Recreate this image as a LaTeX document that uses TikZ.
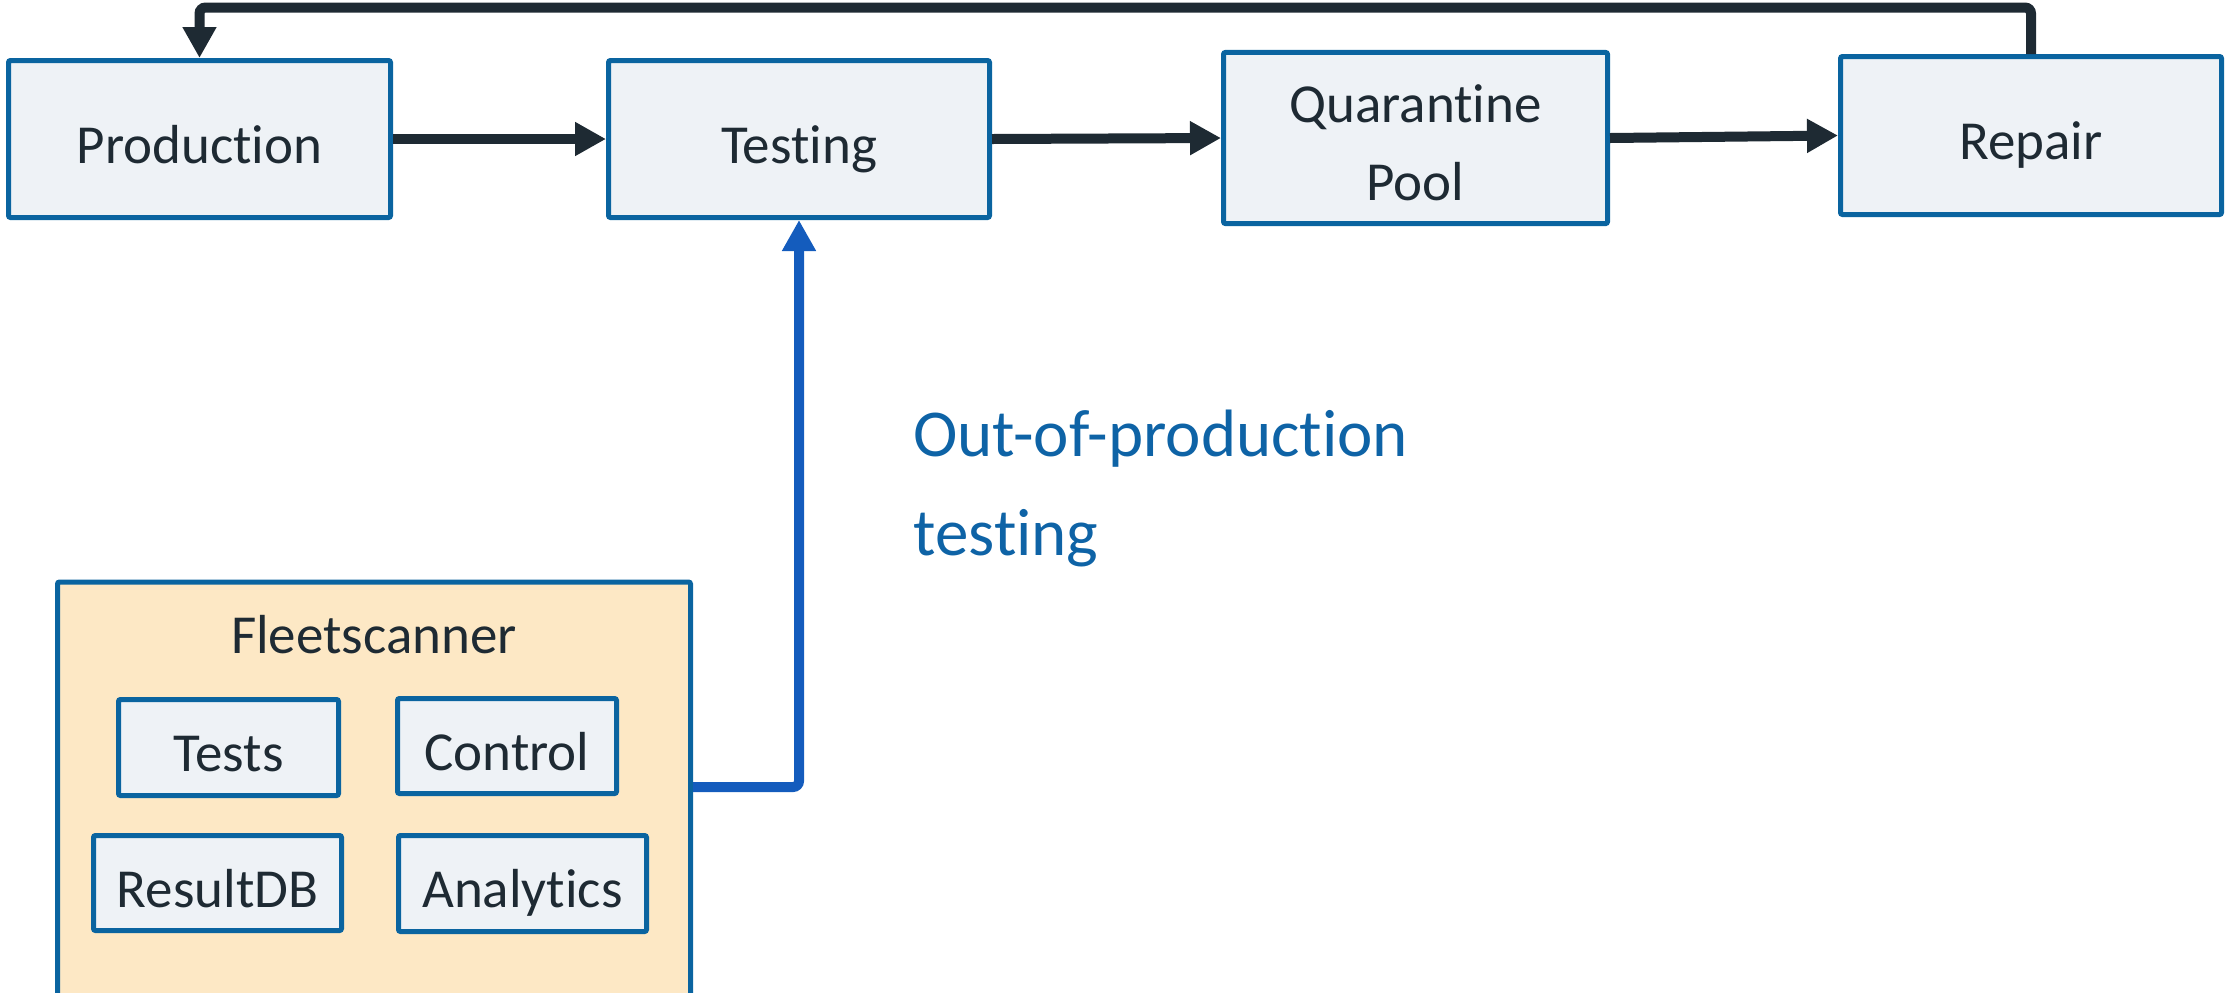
\documentclass[tikz,border=0pt]{standalone}
\usepackage{fontspec}
\setmainfont{Carlito}[Ligatures=NoCommon]
\usetikzlibrary{arrows.meta}
\definecolor{boxblue}{HTML}{0A64A0}
\definecolor{boxfill}{HTML}{EEF2F6}
\definecolor{scanfill}{HTML}{FDE8C5}
\definecolor{inkdark}{HTML}{1E2A33}
\definecolor{linkblue}{HTML}{145CBD}
\definecolor{labelblue}{HTML}{0E63A6}
\tikzset{
  stage/.style={draw=boxblue, fill=boxfill, line width=2.5pt, rounded corners=1pt,
    inner sep=0pt, text=inkdark, font=\fontsize{27.5}{39}\selectfont,
    text height=27.5pt, text depth=3.3pt},
  part/.style={stage},
  scanner/.style={draw=boxblue, fill=scanfill, line width=2.5pt, rounded corners=1pt, inner sep=0pt},
  tip/.style={-{Triangle[length=15.5pt,width=16pt]}},
  flow/.style={draw=inkdark, line width=5pt, tip},
  loopback/.style={draw=inkdark, line width=5pt, rounded corners=3pt, tip},
  feed/.style={draw=linkblue, line width=5pt, rounded corners=3pt, tip},
}
\begin{document}
\begin{tikzpicture}[x=0.5pt, y=-0.5pt]
  \useasboundingbox (0,0) rectangle (2226,992);

  % main pipeline
  \node[stage, minimum width=191pt, minimum height=78.5pt] (prod) at (199.5,139) {Production};
  \node[stage, minimum width=190.5pt, minimum height=78.5pt] (test) at (799,139) {Testing};
  \node[stage, minimum width=192pt, minimum height=78.5pt, text height=, text depth=] (quar) at (1415.5,138)
    {\begin{tabular}{@{}c@{}}\rule{0pt}{34.9pt}Quarantine\\Pool\end{tabular}};
  \node[stage, minimum width=190.5pt, minimum height=79pt] (rep) at (2031,135.5) {Repair};

  \draw[flow] (prod.east) -- (test.west);
  \draw[flow] (test.east) -- (quar.west);
  \draw[flow] (quar.east) -- (rep.west);

  % return path from repair back to production
  \coordinate (ret) at (0,7.5);
  \draw[loopback] (rep.north) |- (ret -| prod.north) -- (prod.north);

  % Fleetscanner block
  \node[scanner, minimum width=316.5pt, minimum height=210pt] (fleet) at (374,792) {};
  \node[anchor=base, text=inkdark, font=\fontsize{27.5}{33}\selectfont, inner sep=0pt] (fleettitle) at (374,653) {Fleetscanner};
  \node[part, minimum width=110pt, minimum height=48pt] (tests) at (228.5,747.5) {Tests};
  \node[part, minimum width=109.5pt, minimum height=47.5pt] (ctrl) at (507,746) {Control};
  \node[part, minimum width=124pt, minimum height=47.5pt] (rdb) at (217.5,883) {ResultDB};
  \node[part, minimum width=124pt, minimum height=48pt] (ana) at (522.5,883.5) {Analytics};

  % out-of-production feed into testing
  \coordinate (fleetout) at (fleet.east |- 0,787);
  \draw[feed] (fleetout) -| (test.south);
  \node[anchor=north west, inner sep=0pt, align=left, text=labelblue,
        font=\fontsize{33.5}{49.5}\selectfont] (oop) at (913,410) {Out-of-production\\testing};
\end{tikzpicture}
\end{document}
